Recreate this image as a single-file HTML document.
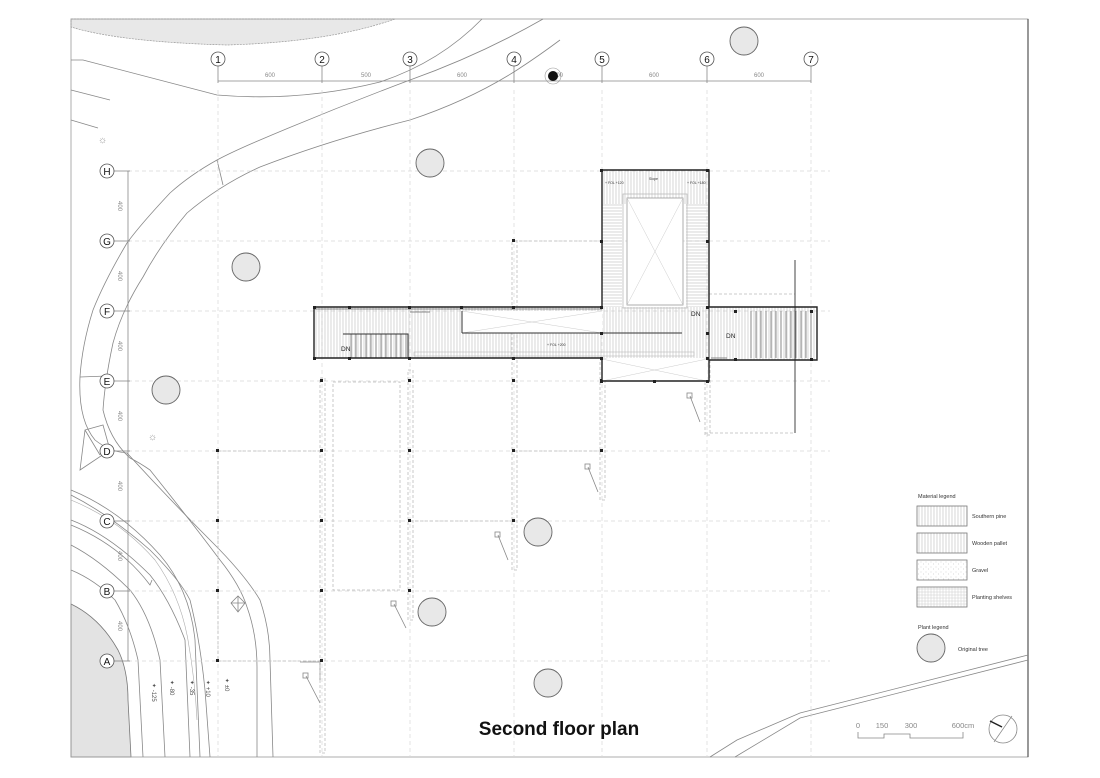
<!DOCTYPE html>
<html><head><meta charset="utf-8"><style>
html,body{margin:0;padding:0;background:#fff;}
svg{display:block;font-family:"Liberation Sans",sans-serif;}
</style></head><body>
<svg width="1100" height="778" viewBox="0 0 1100 778" xmlns="http://www.w3.org/2000/svg">
<defs>
<pattern id="vh" width="3" height="4" patternUnits="userSpaceOnUse"><line x1="1" y1="0" x2="1" y2="4" stroke="#bbb" stroke-width="0.6"/></pattern>
<pattern id="hh" width="4" height="3" patternUnits="userSpaceOnUse"><line x1="0" y1="1" x2="4" y2="1" stroke="#bbb" stroke-width="0.6"/></pattern>
<pattern id="st" width="5" height="5" patternUnits="userSpaceOnUse"><line x1="1" y1="0" x2="1" y2="5" stroke="#777" stroke-width="0.8"/></pattern>
<pattern id="grid" width="3" height="3" patternUnits="userSpaceOnUse"><path d="M0 1H3M1 0V3" stroke="#ccc" stroke-width="0.5"/></pattern>
<pattern id="dots" width="5" height="5" patternUnits="userSpaceOnUse"><circle cx="1" cy="2" r="0.4" fill="#aaa"/><circle cx="3.5" cy="4" r="0.4" fill="#aaa"/></pattern>
</defs>
<rect width="1100" height="778" fill="#fff"/>
<!-- top gray blob -->
<path d="M71,19 L395,19 Q330,42 227,45 Q120,42 71,27 Z" fill="#e8e8e8" stroke="#999" stroke-width="0.7" stroke-dasharray="2,1"/>
<!-- bottom-left gray blob -->
<path d="M71,604 Q100,618 118,650 Q128,670 128,700 L131,757 L71,757 Z" fill="#e3e3e3" stroke="#777" stroke-width="0.8"/>
<!-- frame -->
<rect x="71" y="19" width="957" height="738" fill="none" stroke="#999" stroke-width="0.8"/>
<line x1="1028" y1="19" x2="1028" y2="757" stroke="#555" stroke-width="1.2"/>

<!-- road / contour lines -->
<g fill="none" stroke="#888" stroke-width="0.8">
<path d="M71,60 L83,60 L217,95 Q300,102 380,82 Q440,62 482,19"/>
<path d="M543,19 Q480,55 410,80 Q330,110 253,143 Q230,153 217,160 Q190,175 170,193 Q140,225 127,243 Q105,280 93,310 Q82,345 80,377 Q78,420 95,440 Q110,452 127,453 Q170,500 213,543 Q245,575 260,600 Q270,630 270,660 L273,757"/>
<path d="M560,40 Q540,55 517,70 Q470,100 410,120 Q330,140 260,167 Q220,185 187,213 Q160,245 143,277 Q122,310 113,343 Q105,380 103,410 Q110,440 130,458 Q140,463 150,470 Q190,520 220,560 Q240,585 247,607 Q257,635 257,667 L257,757"/>
<line x1="217" y1="160" x2="223" y2="185"/>
<path d="M71,90 L110,100 M71,120 L98,128"/>
<path d="M80,377 L107,376"/>
<path d="M71,490 Q120,510 160,555 Q190,590 195,640 L200,757"/>
<path d="M71,520 Q110,535 150,575 Q170,600 185,640 L190,757"/>
<path d="M71,545 Q100,560 130,590 Q150,615 160,660 L165,757"/>
<path d="M71,570 Q95,580 115,600 Q130,625 138,660 L143,757"/>
<path d="M71,495 Q110,515 150,550 Q180,580 190,600 Q200,640 205,690 L210,757"/>
<path d="M71,525 Q120,545 150,585 L152,580"/>
<path d="M735,757 L800,718 L1028,660"/>
<path d="M710,757 L737,740 L800,713 L1028,655"/>
<path d="M300,662 L320,662 L320,680"/>
<path d="M85,430 L103,425 L110,450 L80,470 Z M85,430 L100,455"/>
</g>
<!-- light contour band near left grid -->
<g fill="none" stroke="#aaa" stroke-width="0.6">
<path d="M71,500 Q120,520 155,560 Q180,595 188,640 Q195,680 197,720"/>
</g>

<!-- grid lines dashed -->
<g stroke="#d8d8d8" stroke-width="0.7" stroke-dasharray="4,3">
<line x1="218" y1="90" x2="218" y2="757"/><line x1="322" y1="90" x2="322" y2="757"/><line x1="410" y1="90" x2="410" y2="757"/><line x1="514" y1="90" x2="514" y2="757"/><line x1="602" y1="90" x2="602" y2="757"/><line x1="707" y1="90" x2="707" y2="757"/><line x1="811" y1="90" x2="811" y2="757"/>
<line x1="128" y1="171" x2="830" y2="171"/><line x1="128" y1="241" x2="830" y2="241"/><line x1="128" y1="311" x2="830" y2="311"/><line x1="128" y1="381" x2="830" y2="381"/><line x1="128" y1="451" x2="830" y2="451"/><line x1="128" y1="521" x2="830" y2="521"/><line x1="128" y1="591" x2="830" y2="591"/><line x1="128" y1="661" x2="830" y2="661"/>
</g>
<!-- lower structure dashed rectangles -->
<g fill="none" stroke="#bbb" stroke-width="0.8" stroke-dasharray="3,2">
<rect x="320" y="378" width="5" height="375"/><rect x="408" y="370" width="5" height="250"/><rect x="512" y="240" width="5" height="330"/><rect x="600" y="360" width="5" height="140"/><rect x="705" y="360" width="5" height="75"/>
<rect x="333" y="382" width="67" height="208"/>
<line x1="218" y1="451" x2="322" y2="451"/><line x1="218" y1="451" x2="218" y2="661"/><line x1="218" y1="661" x2="322" y2="661"/>
<line x1="410" y1="521" x2="514" y2="521"/><line x1="514" y1="451" x2="602" y2="451"/>
<line x1="514" y1="241" x2="601" y2="241"/>
<path d="M709,294 L795,294 M705,433 L795,433"/>
</g>
<line x1="795" y1="260" x2="795" y2="433" stroke="#444" stroke-width="1"/>
<!-- column dots -->
<g fill="#222">
<rect x="216" y="449" width="3" height="3"/><rect x="216" y="519" width="3" height="3"/><rect x="216" y="589" width="3" height="3"/><rect x="216" y="659" width="3" height="3"/>
<rect x="320" y="379" width="3" height="3"/><rect x="320" y="449" width="3" height="3"/><rect x="320" y="519" width="3" height="3"/><rect x="320" y="589" width="3" height="3"/><rect x="320" y="659" width="3" height="3"/>
<rect x="408" y="379" width="3" height="3"/><rect x="408" y="449" width="3" height="3"/><rect x="408" y="519" width="3" height="3"/><rect x="408" y="589" width="3" height="3"/>
<rect x="512" y="239" width="3" height="3"/><rect x="512" y="379" width="3" height="3"/><rect x="512" y="449" width="3" height="3"/><rect x="512" y="519" width="3" height="3"/>
<rect x="600" y="449" width="3" height="3"/><rect x="600" y="379" width="3" height="3"/>
</g>

<!-- trees -->
<g fill="#e8e8e8" stroke="#666" stroke-width="0.9">
<circle cx="430" cy="163" r="14"/><circle cx="246" cy="267" r="14"/><circle cx="166" cy="390" r="14"/><circle cx="538" cy="532" r="14"/><circle cx="432" cy="612" r="14"/><circle cx="548" cy="683" r="14"/><circle cx="744" cy="41" r="14"/><circle cx="931" cy="648" r="14"/>
</g>
<!-- small lamp symbols -->
<g stroke="#888" stroke-width="0.8" fill="none">
<path d="M394,604 L406,628 M498,535 L508,560 M588,467 L598,492 M690,396 L700,422 M306,676 L320,703"/>
<rect x="391" y="601" width="5" height="5"/><rect x="495" y="532" width="5" height="5"/><rect x="585" y="464" width="5" height="5"/><rect x="687" y="393" width="5" height="5"/><rect x="303" y="673" width="5" height="5"/>
<path d="M231,603 L238,596 L245,603 L238,612 Z M231,603 L245,603 M238,596 L238,612"/>
</g>
<g fill="#999" font-size="10"><text x="98" y="143">☼</text><text x="148" y="440">☼</text></g>

<!-- BUILDING -->
<g>
<rect x="314" y="307" width="288" height="51" fill="url(#vh)"/>
<rect x="602" y="170" width="107" height="34" fill="url(#vh)"/>
<rect x="602" y="204" width="20" height="103" fill="url(#hh)"/>
<rect x="686" y="204" width="22" height="103" fill="url(#hh)"/>
<rect x="602" y="307" width="107" height="51" fill="url(#vh)"/>
<rect x="709" y="307" width="108" height="53" fill="url(#vh)"/>
<rect x="749" y="311" width="66" height="47" fill="url(#st)"/>
<rect x="348" y="334" width="60" height="24" fill="url(#st)"/>
<rect x="627" y="198" width="56" height="107" fill="#fff" stroke="#999" stroke-width="0.8"/>
<rect x="623" y="194" width="64" height="114" fill="none" stroke="#bbb" stroke-width="0.8"/>
<path d="M627,198 L683,305 M683,198 L627,305" stroke="#ccc" stroke-width="0.5"/>
<rect x="462" y="311" width="140" height="22" fill="#fff"/>
<path d="M462,311 L602,333 M462,333 L602,311 M602,358 L709,381 M602,381 L709,358" stroke="#ccc" stroke-width="0.5"/>
<rect x="602" y="359" width="105" height="22" fill="#fff"/>
<path d="M602,359 L707,381 M602,381 L707,359" stroke="#ccc" stroke-width="0.5"/>
<g fill="none" stroke="#222" stroke-width="1.4">
<path d="M314,307 L602,307 L602,170 L709,170 L709,307 L817,307 L817,360 L709,360 L709,381 L602,381 L602,358 L314,358 Z"/>
</g>
<path d="M314,309 L602,309" stroke="#222" stroke-width="0.6"/>
<g stroke="#333" stroke-width="1" fill="none">
<path d="M462,333 L682,333 M462,311 L462,333 M343,334 L408,334 L408,358 M709,307 L709,360"/>
<path d="M410,312 L430,312" stroke="#888"/>
<rect x="414" y="352" width="280" height="4" stroke="#bbb" stroke-width="0.6"/>
<path d="M711,358 L727,358" stroke="#888"/>
</g>
<g fill="#222">
<rect x="313" y="306" width="3" height="3"/><rect x="348" y="306" width="3" height="3"/><rect x="408" y="306" width="3" height="3"/><rect x="460" y="306" width="3" height="3"/><rect x="512" y="306" width="3" height="3"/><rect x="600" y="306" width="3" height="3"/><rect x="706" y="306" width="3" height="3"/><rect x="734" y="310" width="3" height="3"/><rect x="810" y="310" width="3" height="3"/>
<rect x="313" y="357" width="3" height="3"/><rect x="348" y="357" width="3" height="3"/><rect x="408" y="357" width="3" height="3"/><rect x="512" y="357" width="3" height="3"/><rect x="600" y="357" width="3" height="3"/><rect x="706" y="357" width="3" height="3"/><rect x="734" y="358" width="3" height="3"/><rect x="810" y="358" width="3" height="3"/>
<rect x="600" y="169" width="3" height="3"/><rect x="706" y="169" width="3" height="3"/><rect x="600" y="240" width="3" height="3"/><rect x="706" y="240" width="3" height="3"/><rect x="706" y="332" width="3" height="3"/><rect x="600" y="332" width="3" height="3"/><rect x="600" y="380" width="3" height="3"/><rect x="653" y="380" width="3" height="3"/><rect x="706" y="380" width="3" height="3"/>
</g>
<g font-size="6.5" fill="#222"><text x="341" y="351">DN</text><text x="691" y="316">DN</text><text x="726" y="338">DN</text></g>
<g font-size="3.5" fill="#333"><text x="547" y="346">+ FOL +200</text><text x="605" y="184">+ FOL +120</text><text x="687" y="184">+ FOL +180</text><text x="649" y="180">Slope</text></g>
</g>

<!-- axis bubbles columns -->
<g stroke="#888" stroke-width="0.8">
<line x1="218" y1="81" x2="811" y2="81"/>
<line x1="218" y1="66" x2="218" y2="83"/><line x1="322" y1="66" x2="322" y2="83"/><line x1="410" y1="66" x2="410" y2="83"/><line x1="514" y1="66" x2="514" y2="83"/><line x1="602" y1="66" x2="602" y2="83"/><line x1="707" y1="66" x2="707" y2="83"/><line x1="811" y1="66" x2="811" y2="83"/>
<line x1="128" y1="171" x2="128" y2="661"/>
<line x1="114" y1="171" x2="130" y2="171"/><line x1="114" y1="241" x2="130" y2="241"/><line x1="114" y1="311" x2="130" y2="311"/><line x1="114" y1="381" x2="130" y2="381"/><line x1="114" y1="451" x2="130" y2="451"/><line x1="114" y1="521" x2="130" y2="521"/><line x1="114" y1="591" x2="130" y2="591"/><line x1="114" y1="661" x2="130" y2="661"/>
</g>
<g fill="#fff" stroke="#555" stroke-width="0.8">
<circle cx="218" cy="59" r="7"/><circle cx="322" cy="59" r="7"/><circle cx="410" cy="59" r="7"/><circle cx="514" cy="59" r="7"/><circle cx="602" cy="59" r="7"/><circle cx="707" cy="59" r="7"/><circle cx="811" cy="59" r="7"/>
<circle cx="107" cy="171" r="7"/><circle cx="107" cy="241" r="7"/><circle cx="107" cy="311" r="7"/><circle cx="107" cy="381" r="7"/><circle cx="107" cy="451" r="7"/><circle cx="107" cy="521" r="7"/><circle cx="107" cy="591" r="7"/><circle cx="107" cy="661" r="7"/>
</g>
<g font-size="10" fill="#111" text-anchor="middle">
<text x="218" y="63">1</text><text x="322" y="63">2</text><text x="410" y="63">3</text><text x="514" y="63">4</text><text x="602" y="63">5</text><text x="707" y="63">6</text><text x="811" y="63">7</text>
<text x="107" y="175">H</text><text x="107" y="245">G</text><text x="107" y="315">F</text><text x="107" y="385">E</text><text x="107" y="455">D</text><text x="107" y="525">C</text><text x="107" y="595">B</text><text x="107" y="665">A</text>
</g>
<g font-size="6" fill="#888" text-anchor="middle">
<text x="270" y="77">600</text><text x="366" y="77">500</text><text x="462" y="77">600</text><text x="558" y="77">600</text><text x="654" y="77">600</text><text x="759" y="77">600</text>
<text transform="translate(118,206) rotate(90)">400</text><text transform="translate(118,276) rotate(90)">400</text><text transform="translate(118,346) rotate(90)">400</text><text transform="translate(118,416) rotate(90)">400</text><text transform="translate(118,486) rotate(90)">400</text><text transform="translate(118,556) rotate(90)">400</text><text transform="translate(118,626) rotate(90)">400</text>
</g>
<circle cx="553" cy="76" r="5" fill="#111"/>
<circle cx="553" cy="76" r="8" fill="none" stroke="#999" stroke-width="0.6"/>
<!-- elevation labels -->
<g font-size="6" fill="#555">
<text transform="translate(152,683) rotate(90)">✦ -125</text><text transform="translate(170,680) rotate(90)">✦ -80</text><text transform="translate(190,680) rotate(90)">✦ -35</text><text transform="translate(206,680) rotate(90)">✦ +10</text><text transform="translate(225,678) rotate(90)">✦ ±0</text>
</g>

<!-- legend -->
<g font-size="5.5" fill="#333">
<text x="918" y="498">Material legend</text>
<text x="972" y="518">Southern pine</text><text x="972" y="545">Wooden pallet</text><text x="972" y="572">Gravel</text><text x="972" y="599">Planting shelves</text>
<text x="918" y="629">Plant legend</text><text x="958" y="651">Original tree</text>
</g>
<g stroke="#777" stroke-width="0.8">
<rect x="917" y="506" width="50" height="20" fill="url(#vh)"/>
<rect x="917" y="533" width="50" height="20" fill="url(#vh)"/>
<rect x="917" y="560" width="50" height="20" fill="url(#dots)"/>
<rect x="917" y="587" width="50" height="20" fill="url(#grid)"/>
</g>

<!-- scale bar & north -->
<g font-size="7.5" fill="#888" text-anchor="middle"><text x="858" y="728">0</text><text x="882" y="728">150</text><text x="911" y="728">300</text><text x="963" y="728">600cm</text></g>
<path d="M858,732 L858,738 L884,738 L884,734 L910,734 L910,738 L963,738 L963,732" fill="none" stroke="#888" stroke-width="0.8"/>
<circle cx="1003" cy="729" r="14" fill="none" stroke="#888" stroke-width="0.8"/>
<path d="M1012,716 L994,742" stroke="#888" stroke-width="0.7"/>
<path d="M990,721 L1002,727" stroke="#222" stroke-width="1.5"/>
<text x="559" y="735" font-size="19" font-weight="bold" fill="#111" text-anchor="middle">Second floor plan</text>
</svg>
</body></html>
